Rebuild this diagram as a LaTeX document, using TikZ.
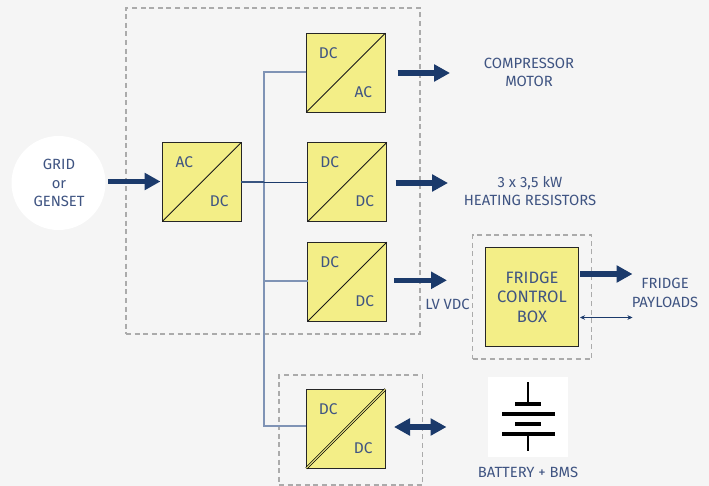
\documentclass[tikz,border=0pt]{standalone}
\usepackage{fontspec}
\setmainfont{Fira Sans}
\usetikzlibrary{arrows.meta,calc}
\definecolor{bgc}{HTML}{F5F5F5}
\definecolor{yel}{HTML}{F3EE87}
\definecolor{navy}{HTML}{1B3A6B}
\definecolor{txt}{HTML}{3F5482}
\definecolor{bus}{HTML}{7F93B5}
\definecolor{dsh}{HTML}{ABABAB}
\tikzset{
  conv/.style={draw=black!85,fill=yel,line width=1.1pt,inner sep=0pt,minimum width=79pt,minimum height=79pt,outer sep=0pt},
  lbl/.style={text=txt,font=\fontsize{14.8}{18.3}\selectfont,align=center,inner sep=0pt},
  dashbox/.style={draw=dsh,line width=1.2pt,dash pattern=on 5pt off 3.6pt},
  power/.style={draw=navy,line width=5.5pt,-{Triangle[length=16pt,width=16.5pt]}},
  powerboth/.style={draw=navy,line width=5.5pt,{Triangle[length=16pt,width=16.5pt]}-{Triangle[length=16pt,width=16.5pt]}},
  signal/.style={draw=navy,line width=.5pt,{Stealth[length=5pt,width=4.5pt]}-{Stealth[length=5pt,width=4.5pt]}},
  busline/.style={draw=bus,line width=1.2pt},
  diag/.style={draw=black!90,line width=.9pt},
  plate/.style={draw=black,line width=3.4pt},
  wire/.style={draw=black,line width=1.8pt},
}
\begin{document}
\begin{tikzpicture}[x=1pt,y=-1pt]
\useasboundingbox (0,0) rectangle (709,486);
\fill[bgc] (0,0) rectangle (709,486);
% dashed groups
\node[dashbox,inner sep=0,minimum width=294pt,minimum height=326pt] (mainbox) at (273,171) {};
\node[dashbox,inner sep=0,minimum width=119pt,minimum height=124pt] (fridgegroup) at (532.2,297) {};
\node[dashbox,inner sep=0,minimum width=143.5pt,minimum height=110pt] (batgroup) at (350.8,430) {};
% source
\node[circle,fill=white,minimum size=94pt,inner sep=0] (grid) at (58.5,183) {};
\node[lbl] (gridtxt) at (59,183) {GRID\\or\\GENSET};
% converters
\node[conv] (acdc) at (201.8,182) {};
\node[conv] (dcac) at (345.8,72.8) {};
\node[conv] (dcdca) at (347.3,182) {};
\node[conv] (dcdcb) at (347.2,281.7) {};
\node[conv] (dcdcc) at (345.8,428.8) {};
\node[conv,minimum width=93pt,minimum height=99pt] (fcb) at (532,297) {};
\node[lbl,font=\fontsize{16.5}{19.5}\selectfont] (fcbtxt) at (532,297) {FRIDGE\\CONTROL\\BOX};
\draw[diag] (acdc.south west) -- (acdc.north east);
\draw[diag] (dcac.south west) -- (dcac.north east);
\draw[diag] (dcdca.south west) -- (dcdca.north east);
\draw[diag] (dcdcb.south west) -- (dcdcb.north east);
\draw[draw=black,line width=2.6pt] (dcdcc.south west) -- (dcdcc.north east);
\draw[draw=yel,line width=1pt] (dcdcc.south west) -- (dcdcc.north east);
% converter labels
\foreach \n/\a/\b in {acdc/AC/DC,dcac/DC/AC,dcdca/DC/DC,dcdcb/DC/DC,dcdcc/DC/DC}{
  \node[lbl,font=\fontsize{15.5}{18}\selectfont] (\n-in) at ($(\n.north west)+(22,20)$) {\a};
  \node[lbl,font=\fontsize{15.5}{18}\selectfont] (\n-out) at ($(\n.south east)+(-22,-20.5)$) {\b};
}
% bus
\coordinate (bustop) at (264,72);
\coordinate (busa) at (264,182);
\coordinate (busb) at (264,281);
\coordinate (busbot) at (264,426);
\draw[busline] (dcac.west |- bustop) -- (bustop) -- (busbot) -- (dcdcc.west |- busbot);
\draw[busline] (busb) -- (dcdcb.west |- busb);
\draw[busline,draw=navy!70!bus] (acdc.east) -- (busa);
\draw[draw=navy,line width=.9pt] (busa) -- (dcdca.west);
% end points of power arrows
\coordinate (a1s) at (108,181.5); \coordinate (a1e) at (160.5,181.5);
\coordinate (a2s) at (397.5,73); \coordinate (a2e) at (450,73);
\coordinate (a3s) at (395.5,183); \coordinate (a3e) at (448,183);
\coordinate (a4s) at (394,280.3); \coordinate (a4e) at (447,280.3);
\coordinate (a5s) at (580,274); \coordinate (a5e) at (632.5,274);
\coordinate (a6s) at (394,427); \coordinate (a6e) at (446.5,427);
\coordinate (a7s) at (580,317.5); \coordinate (a7e) at (632.5,317.5);
\draw[power] (a1s) -- (a1e);
\draw[power] (a2s) -- (a2e);
\draw[power] (a3s) -- (a3e);
\draw[power] (a4s) -- (a4e);
\draw[power] (a5s) -- (a5e);
\draw[powerboth] (a6s) -- (a6e);
\draw[signal] (a7s) -- (a7e);
% labels
\node[lbl] (comp) at (529,72.5) {COMPRESSOR\\MOTOR};
\node[lbl] (heat) at (530,191) {3 x 3,5 kW\\HEATING RESISTORS};
\node[lbl] (lv) at (447.5,304.5) {LV VDC};
\node[lbl] (payl) at (665,293) {FRIDGE\\PAYLOADS};
% battery
\node[fill=white,minimum size=80pt,inner sep=0] (bat) at (528,417) {};
\draw[wire] (528,382) -- (528,404);
\draw[wire] (528,434) -- (528,451);
\draw[plate] (515,404) -- (541,404);
\draw[plate] (502,414) -- (555,414);
\draw[plate] (515,424) -- (541,424);
\draw[plate] (502,434) -- (555,434);
\node[lbl] (battxt) at (528,472.5) {BATTERY + BMS};
\end{tikzpicture}
\end{document}
